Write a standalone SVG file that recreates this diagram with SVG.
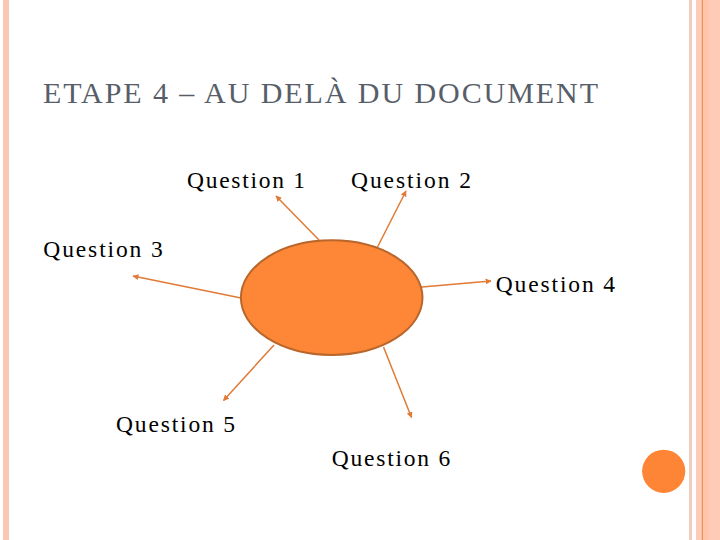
<svg xmlns="http://www.w3.org/2000/svg" width="720" height="540" viewBox="0 0 720 540">
<defs>
<style>
.q{font-family:"Liberation Serif","Times New Roman",serif;font-size:23.5px;fill:#000}
.t{font-family:"Liberation Serif","Times New Roman",serif;font-size:30px;fill:#575E69}
.c{stroke:#E07A36;stroke-width:1.5;fill:none;marker-end:url(#ah)}
</style>
<marker id="ah" viewBox="0 0 10 10" refX="9" refY="5" markerWidth="6" markerHeight="6" markerUnits="userSpaceOnUse" orient="auto">
<path d="M0,0 L10,5 L0,10 z" fill="#E07A36"/>
</marker>
</defs>
<rect width="720" height="540" fill="#FFFFFF"/>
<g id="decor">
<rect x="3" y="0" width="6" height="540" fill="#F8C8B4"/>
<rect x="689" y="0" width="3" height="540" fill="#F2CDBD"/>
<rect x="696" y="0" width="24" height="540" fill="#FFCBB6"/>
<rect x="703" y="0" width="5.5" height="540" fill="#FFC4AA"/>
<rect x="701.8" y="0" width="1.2" height="540" fill="#E8935C"/>
<circle cx="663.7" cy="471.3" r="21.6" fill="#FD8535"/>
</g>
<text id="title" class="t" x="43" y="103.3" textLength="555" lengthAdjust="spacing">ETAPE 4 – AU DELÀ DU DOCUMENT</text>
<g id="connectors">
<line class="c" x1="319" y1="240" x2="276" y2="196"/>
<line class="c" x1="377" y1="248" x2="406" y2="191"/>
<line class="c" x1="241" y1="298" x2="133" y2="276"/>
<line class="c" x1="422" y1="287" x2="491" y2="281"/>
<line class="c" x1="274" y1="345" x2="223.5" y2="400.5"/>
<line class="c" x1="383.5" y1="347" x2="411.5" y2="417.5"/>
</g>
<g id="center">
<ellipse cx="331.7" cy="297.6" rx="90.8" ry="57.3" fill="#FD8736" stroke="#B9662C" stroke-width="2"/>
</g>
<g id="q1"><text class="q" x="187" y="188" textLength="118" lengthAdjust="spacing">Question 1</text></g>
<g id="q2"><text class="q" x="351" y="188" textLength="120" lengthAdjust="spacing">Question 2</text></g>
<g id="q3"><text class="q" x="43.3" y="256.7" textLength="119.4" lengthAdjust="spacing">Question 3</text></g>
<g id="q4"><text class="q" x="495.7" y="291.7" textLength="119.3" lengthAdjust="spacing">Question 4</text></g>
<g id="q5"><text class="q" x="116" y="431.7" textLength="119" lengthAdjust="spacing">Question 5</text></g>
<g id="q6"><text class="q" x="331.7" y="465.7" textLength="118.5" lengthAdjust="spacing">Question 6</text></g>
</svg>
